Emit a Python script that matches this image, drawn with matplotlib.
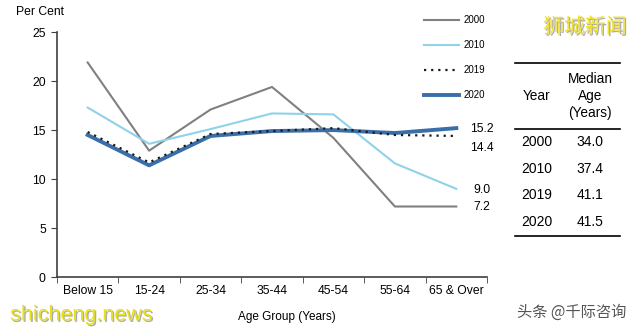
import numpy as np
import matplotlib.pyplot as plt
import matplotlib.patheffects as pe

plt.rcParams['font.family'] = ['Liberation Sans', 'Noto Sans CJK SC', 'DejaVu Sans']

age_groups = ["Below 15", "15-24", "25-34", "35-44", "45-54", "55-64", "65 & Over"]
share_2000 = [21.9, 12.9, 17.1, 19.4, 14.2, 7.2, 7.2]
share_2010 = [17.3, 13.6, 15.1, 16.7, 16.6, 11.6, 9.0]
share_2019 = [14.8, 11.7, 14.6, 14.9, 15.2, 14.5, 14.4]
share_2020 = [14.5, 11.4, 14.4, 14.9, 15.0, 14.7, 15.2]

end_labels = ["15.2", "14.4", "9.0", "7.2"]
table_years = ["2000", "2010", "2019", "2020"]
median_age = ["34.0", "37.4", "41.1", "41.5"]

fig = plt.figure(figsize=(6.4, 3.31), dpi=100)
ax = fig.add_axes([0.089, 0.163, 0.672, 0.740])

x = np.arange(len(age_groups))
ax.plot(x, share_2000, color="#808080", lw=1.5, label="2000")
ax.plot(x, share_2010, color="#8fd2ea", lw=1.5, label="2010")
ax.plot(x, share_2020, color="#3a6ea8", lw=2.8, label="2020", zorder=3)
ax.plot(x, share_2019, color="#1a1a1a", lw=1.6, ls=(0, (1, 2.2)), label="2019", zorder=4)

ax.set_xlim(-0.5, len(age_groups) - 0.5)
ax.set_ylim(0, 25)
ax.set_yticks([0, 5, 10, 15, 20, 25])
ax.set_xticks(x)
ax.set_xticklabels(age_groups)
ax.set_xticks(np.arange(-0.5, len(age_groups)), minor=True)
ax.tick_params(axis="x", which="major", length=0, pad=6, labelsize=8.7)
ax.tick_params(axis="x", which="minor", length=4, color="#404040")
ax.tick_params(axis="y", length=4, color="#404040", labelsize=8.7, pad=4)
for s in ["top", "right"]:
    ax.spines[s].set_visible(False)
for s in ["left", "bottom"]:
    ax.spines[s].set_color("#404040")
    ax.spines[s].set_linewidth(1.2)

# end-of-line value labels
ax.text(6.22, share_2020[-1] - 0.05, end_labels[0], fontsize=8.7, va="center")
ax.text(6.22, share_2019[-1] - 1.2, end_labels[1], fontsize=8.7, va="center")
ax.text(6.28, share_2010[-1] - 0.1, end_labels[2], fontsize=8.7, va="center")
ax.text(6.28, share_2000[-1] - 0.1, end_labels[3], fontsize=8.7, va="center")

handles, labels = ax.get_legend_handles_labels()
order = [0, 1, 3, 2]
ax.legend([handles[i] for i in order], [labels[i] for i in order],
          loc="upper left", bbox_to_anchor=(0.833, 1.105), frameon=False,
          fontsize=7, handlelength=3.6, labelspacing=1.55, handletextpad=0.5)

fig.text(0.025, 0.965, "Per Cent", fontsize=8.7, va="center")
fig.text(0.448, 0.043, "Age Group (Years)", fontsize=8.5, ha="center", va="center")

# median age table
for ypix in [63, 129, 236]:
    fig.add_artist(plt.Line2D([515 / 640, 620 / 640], [1 - ypix / 331] * 2,
                              color="black", lw=1.2))
fig.text(537 / 640, 1 - 96 / 331, "Year", fontsize=9.8, ha="center", va="center")
fig.text(590 / 640, 1 - 96 / 331, "Median\nAge\n(Years)", fontsize=9.8,
         ha="center", va="center", linespacing=1.3)
for i, (yr, med) in enumerate(zip(table_years, median_age)):
    yy = 1 - (142 + i * 26.7) / 331
    fig.text(537 / 640, yy, yr, fontsize=10, ha="center", va="center")
    fig.text(590 / 640, yy, med, fontsize=10, ha="center", va="center")

# watermarks
shadow = [pe.withSimplePatchShadow(offset=(1, -1), shadow_rgbFace="#999999", alpha=0.8)]
fig.text(585 / 640, 1 - 27 / 331, "狮城新闻", fontsize=15, color="#f0e030",
         ha="center", va="center", family=["Noto Sans CJK SC"], path_effects=shadow)
fig.text(81 / 640, 1 - 315 / 331, "shicheng.news", fontsize=15.5, color="#e8e020",
         ha="center", va="center", path_effects=shadow)
fig.text(572 / 640, 1 - 312 / 331, "头条 @千际咨询", fontsize=11, color="#555555",
         ha="center", va="center", family=["Noto Sans CJK SC", "DejaVu Sans"])

fig.savefig("out.png", dpi=100)
